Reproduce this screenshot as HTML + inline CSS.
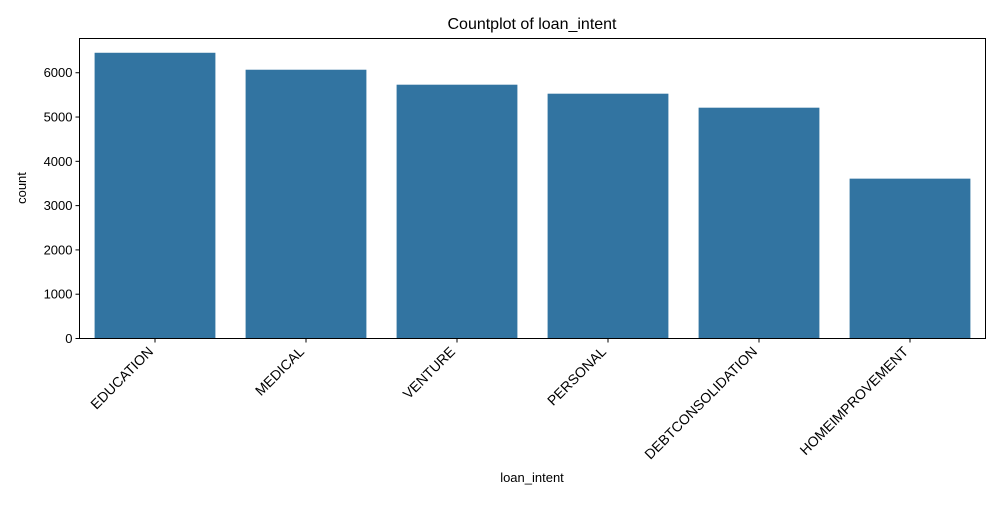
<!DOCTYPE html>
<html><head><meta charset="utf-8"><style>
html,body{margin:0;padding:0;background:#fff;}
svg text{font-family:"Liberation Sans","DejaVu Sans",sans-serif;fill:#000;}
</style></head><body>
<svg id="chart" width="1000" height="500" viewBox="0 0 1000 500" xmlns="http://www.w3.org/2000/svg">
<text x="532" y="29" font-size="16" text-anchor="middle">Countplot of loan_intent</text>
<g id="bars"></g>
<g id="yticks"></g>
<g id="xticks"></g>
<rect x="79.5" y="38.5" width="906" height="300" fill="none" stroke="#000" stroke-width="1"/>
<text transform="translate(26,188) rotate(-90)" font-size="13" text-anchor="middle">count</text>
<text x="532" y="482" font-size="13" text-anchor="middle">loan_intent</text>
</svg>
<script>
const categories=["EDUCATION","MEDICAL","VENTURE","PERSONAL","DEBTCONSOLIDATION","HOMEIMPROVEMENT"];
const counts=[6451,6068,5730,5527,5211,3609];
const yTicks=[0,1000,2000,3000,4000,5000,6000];
const L=79.5,R=985.5,T=38.5,B=338.5;
const yMax=6773;
function y(v){return B-(v/yMax)*(B-T);}
const band=(R-L)/categories.length;
function xc(i){return L+band*(i+0.5);}
const NS="http://www.w3.org/2000/svg";
const bars=document.getElementById('bars'),yt=document.getElementById('yticks'),xt=document.getElementById('xticks');
categories.forEach((c,i)=>{
  const r=document.createElementNS(NS,'rect');
  
  
  const w=band*0.8;
  r.setAttribute('x',xc(i)-w/2);r.setAttribute('width',w);
  r.setAttribute('y',y(counts[i]));r.setAttribute('height',B-y(counts[i]));
  r.setAttribute('fill','#3274a1');
  bars.appendChild(r);
  const t=document.createElementNS(NS,'line');
  
  
  t.setAttribute('x1',xc(i));t.setAttribute('x2',xc(i));t.setAttribute('y1',B);t.setAttribute('y2',B+4);
  t.setAttribute('stroke','#000');
  xt.appendChild(t);
  const tx=document.createElementNS(NS,'text');
  
  
  tx.setAttribute('font-size','14');tx.setAttribute('text-anchor','end');
  tx.setAttribute('transform','translate('+(xc(i)-1)+','+(B+14)+') rotate(-45)');
  tx.textContent=c;
  xt.appendChild(tx);
});
yTicks.forEach(v=>{
  const t=document.createElementNS(NS,'line');
  
  
  t.setAttribute('x1',L-4);t.setAttribute('x2',L);t.setAttribute('y1',y(v));t.setAttribute('y2',y(v));
  t.setAttribute('stroke','#000');
  yt.appendChild(t);
  const tx=document.createElementNS(NS,'text');
  
  
  tx.setAttribute('font-size','13');tx.setAttribute('text-anchor','end');
  tx.setAttribute('x',L-7);tx.setAttribute('y',y(v)+4.5);
  tx.textContent=v;
  yt.appendChild(tx);
});
</script>
</body></html>
